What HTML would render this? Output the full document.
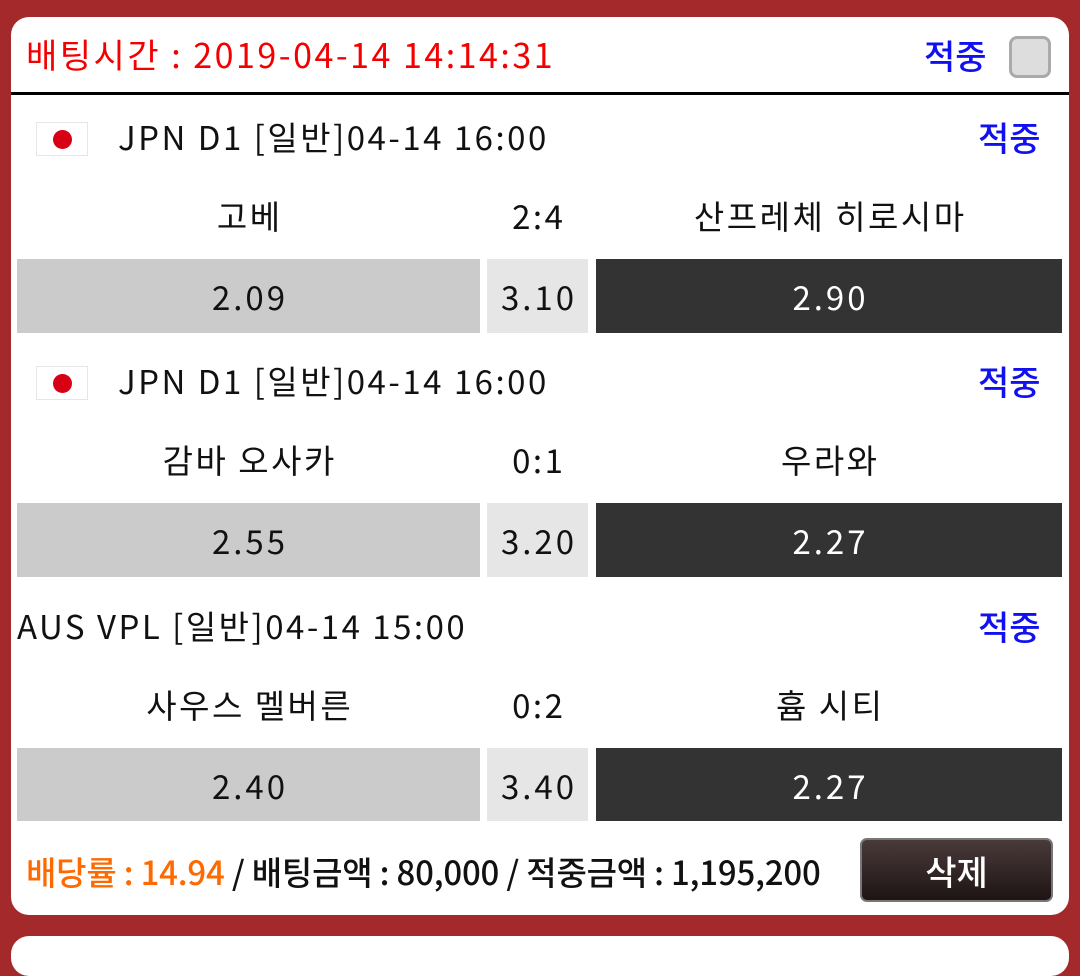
<!DOCTYPE html>
<html><head><meta charset="utf-8"><style>
*{margin:0;padding:0;box-sizing:border-box}
body{width:1080px;height:940px;background:#a3292a;position:relative;overflow:hidden;font-family:"Noto Sans CJK KR","Liberation Sans",sans-serif}
.card{position:absolute;left:11px;top:17px;width:1058px;height:898px;background:#fff;border-radius:18px}
.card2{position:absolute;left:11px;top:936px;width:1058px;height:40px;background:#fff;border-radius:18px}
.t{position:absolute;white-space:nowrap;line-height:1;letter-spacing:2.5px}
.c{text-indent:2.5px}
.box{position:absolute;display:flex;align-items:center;justify-content:center;font-size:33px;letter-spacing:3px;text-indent:3px}
.l{background:#cbcbcb;color:#111}
.m{background:#e6e6e6;color:#111}
.r{background:#333;color:#fff}
.flag{position:absolute;width:52px;height:34px;border:1px solid #e6e6e6;background:#fff}
.flag:after{content:"";position:absolute;left:16px;top:7px;width:19px;height:19px;border-radius:50%;background:#d70015}
.blue{color:#1010f0;font-size:34px;font-weight:500;letter-spacing:0}
</style></head><body>
<div class="card"></div>
<div class="card2"></div>
<div class="t" style="left:26px;top:37px;font-size:34px;color:#f40000">배팅시간 : 2019-04-14 14:14:31</div>
<div class="t blue" style="left:924px;top:38px">적중</div>
<div style="position:absolute;left:1009px;top:36px;width:42px;height:42px;border-radius:8px;border:3px solid #aaa;background:#ddd"></div>
<div style="position:absolute;left:11px;top:92px;width:1058px;height:3px;background:#000"></div>

<div class="flag" style="left:36px;top:122px"></div>
<div class="t" style="left:118px;top:120px;font-size:33px;color:#111">JPN D1 [일반]04-14 16:00</div>
<div class="t blue" style="left:978px;top:120px">적중</div>
<div class="t c" style="left:17px;width:463px;text-align:center;top:199px;font-size:33px;color:#111">고베</div>
<div class="t c" style="left:487px;width:101px;text-align:center;top:199px;font-size:33px;color:#111">2:4</div>
<div class="t c" style="left:596px;width:466px;text-align:center;top:199px;font-size:33px;color:#111">산프레체 히로시마</div>
<div class="box l" style="left:17px;top:259px;width:463px;height:74px">2.09</div>
<div class="box m" style="left:487px;top:259px;width:101px;height:74px">3.10</div>
<div class="box r" style="left:596px;top:259px;width:466px;height:74px">2.90</div>

<div class="flag" style="left:36px;top:366px"></div>
<div class="t" style="left:118px;top:364px;font-size:33px;color:#111">JPN D1 [일반]04-14 16:00</div>
<div class="t blue" style="left:978px;top:364px">적중</div>
<div class="t c" style="left:17px;width:463px;text-align:center;top:443px;font-size:33px;color:#111">감바 오사카</div>
<div class="t c" style="left:487px;width:101px;text-align:center;top:443px;font-size:33px;color:#111">0:1</div>
<div class="t c" style="left:596px;width:466px;text-align:center;top:443px;font-size:33px;color:#111">우라와</div>
<div class="box l" style="left:17px;top:503px;width:463px;height:74px">2.55</div>
<div class="box m" style="left:487px;top:503px;width:101px;height:74px">3.20</div>
<div class="box r" style="left:596px;top:503px;width:466px;height:74px">2.27</div>

<div class="t" style="left:17px;top:609px;font-size:33px;color:#111">AUS VPL [일반]04-14 15:00</div>
<div class="t blue" style="left:978px;top:609px">적중</div>
<div class="t c" style="left:17px;width:463px;text-align:center;top:688px;font-size:33px;color:#111">사우스 멜버른</div>
<div class="t c" style="left:487px;width:101px;text-align:center;top:688px;font-size:33px;color:#111">0:2</div>
<div class="t c" style="left:596px;width:466px;text-align:center;top:688px;font-size:33px;color:#111">흄 시티</div>
<div class="box l" style="left:17px;top:748px;width:463px;height:73px">2.40</div>
<div class="box m" style="left:487px;top:748px;width:101px;height:73px">3.40</div>
<div class="box r" style="left:596px;top:748px;width:466px;height:73px">2.27</div>

<div class="t" style="left:26px;top:855px;font-size:33px;font-weight:500;color:#111;letter-spacing:-0.2px"><span style="color:#ff6a00">배당률 : 14.94</span> / 배팅금액 : 80,000 / 적중금액 : 1,195,200</div>
<div style="position:absolute;left:860px;top:838px;width:193px;height:64px;border-radius:7px;background:linear-gradient(#4a3a3a,#1e1414);border:2px solid #777;color:#fff;font-size:34px;font-weight:500;display:flex;align-items:center;justify-content:center">삭제</div>
</body></html>
